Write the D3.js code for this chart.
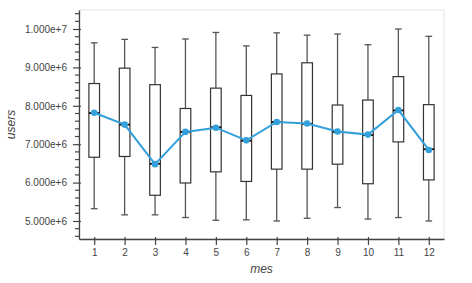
<!DOCTYPE html>
<html>
<head>
<meta charset="utf-8">
<script src="https://cdn.jsdelivr.net/npm/d3@7"></script>
<style>
    body { margin: 0; background: #fff; }
    svg text { font-family: "Liberation Sans", Arial, sans-serif; fill: #444; }
</style>
</head>
<body>
<div id="chart"></div>
<script>
// monthly users, box per month + mean line
let months = [1, 2, 3, 4, 5, 6, 7, 8, 9, 10, 11, 12];
let upper = [9.64e6, 9.73e6, 9.52e6, 9.74e6, 9.91e6, 9.56e6, 9.90e6, 9.84e6, 9.87e6, 9.59e6, 1.0e7, 9.81e6];
let q3 = [8.58e6, 8.98e6, 8.55e6, 7.93e6, 8.46e6, 8.27e6, 8.83e6, 9.12e6, 8.02e6, 8.15e6, 8.76e6, 8.03e6];
let median = [7.81e6, 7.51e6, 6.49e6, 7.32e6, 7.44e6, 7.09e6, 7.58e6, 7.53e6, 7.32e6, 7.24e6, 7.88e6, 6.87e6];
let q1 = [6.66e6, 6.68e6, 5.67e6, 5.99e6, 6.28e6, 6.03e6, 6.35e6, 6.35e6, 6.48e6, 5.97e6, 7.06e6, 6.07e6];
let lower = [5.32e6, 5.16e6, 5.16e6, 5.09e6, 5.02e6, 5.03e6, 5.00e6, 5.07e6, 5.35e6, 5.05e6, 5.09e6, 5.00e6];
let meanUsers = [7.82e6, 7.51e6, 6.48e6, 7.32e6, 7.43e6, 7.10e6, 7.58e6, 7.54e6, 7.33e6, 7.25e6, 7.89e6, 6.85e6];
let yTicks = [5e6, 6e6, 7e6, 8e6, 9e6, 1e7];

let width = 472, height = 283;
let margin = {top: 10, right: 28, bottom: 44, left: 79};

let svg = d3.select("#chart").append("svg")
    .attr("width", width)
    .attr("height", height);

let x = d3.scaleLinear().domain([0.5, 12.5]).range([margin.left, width - margin.right]);
let y = d3.scaleLinear().domain([4.531e6, 1.0495e7]).range([height - margin.bottom, margin.top]);

let boxW = x(0.85) - x(0.5);
let capW = x(0.72) - x(0.5);

let data = months.map((m, i) => ({
    m: m, hi: upper[i], q3: q3[i], med: median[i], q1: q1[i], lo: lower[i], mean: meanUsers[i]
}));

// plot outline
svg.append("rect")
    .attr("x", margin.left).attr("y", margin.top)
    .attr("width", width - margin.right - margin.left)
    .attr("height", height - margin.bottom - margin.top)
    .attr("fill", "none")
    .attr("stroke", "#e6e6e6")
    .attr("stroke-width", 1);

let boxes = svg.append("g").selectAll("g.box")
    .data(data)
    .enter().append("g")
    .attr("class", "box");

// whiskers
boxes.append("line")
    .attr("x1", d => x(d.m)).attr("x2", d => x(d.m))
    .attr("y1", d => y(d.hi)).attr("y2", d => y(d.q3))
    .attr("stroke", "#555").attr("stroke-width", 1.3);
boxes.append("line")
    .attr("x1", d => x(d.m)).attr("x2", d => x(d.m))
    .attr("y1", d => y(d.q1)).attr("y2", d => y(d.lo))
    .attr("stroke", "#555").attr("stroke-width", 1.3);
boxes.append("line")
    .attr("x1", d => x(d.m) - capW / 2).attr("x2", d => x(d.m) + capW / 2)
    .attr("y1", d => y(d.hi)).attr("y2", d => y(d.hi))
    .attr("stroke", "#555").attr("stroke-width", 1.3);
boxes.append("line")
    .attr("x1", d => x(d.m) - capW / 2).attr("x2", d => x(d.m) + capW / 2)
    .attr("y1", d => y(d.lo)).attr("y2", d => y(d.lo))
    .attr("stroke", "#555").attr("stroke-width", 1.3);

// box
boxes.append("rect")
    .attr("x", d => x(d.m) - boxW / 2)
    .attr("y", d => y(d.q3))
    .attr("width", boxW)
    .attr("height", d => y(d.q1) - y(d.q3))
    .attr("fill", "#fff")
    .attr("stroke", "#333")
    .attr("stroke-width", 1.2);

boxes.append("line")
    .attr("x1", d => x(d.m) - boxW / 2).attr("x2", d => x(d.m) + boxW / 2)
    .attr("y1", d => y(d.med)).attr("y2", d => y(d.med))
    .attr("stroke", "#111").attr("stroke-width", 1.8);

// mean line
let line = d3.line().x(d => x(d.m)).y(d => y(d.mean));
svg.append("path")
    .datum(data)
    .attr("d", line)
    .attr("fill", "none")
    .attr("stroke", "#33a0db")
    .attr("stroke-width", 2);

svg.append("g").selectAll("circle")
    .data(data)
    .enter().append("circle")
    .attr("cx", d => x(d.m))
    .attr("cy", d => y(d.mean))
    .attr("r", 3.3)
    .attr("fill", "#33a0db");

// axes
let xAxis = d3.axisBottom(x)
    .tickValues(months)
    .tickSizeInner(6)
    .tickSizeOuter(0)
    .tickPadding(4);

let xg = svg.append("g")
    .attr("transform", "translate(0," + (height - margin.bottom) + ")")
    .call(xAxis);
xg.select(".domain").attr("stroke", "#444").attr("stroke-width", 1.3);
xg.selectAll(".tick line").attr("stroke", "#444").attr("y1", -2).attr("stroke-width", 1.2);
xg.selectAll(".tick text").attr("font-size", 10).attr("fill", "#555");

let yAxis = d3.axisLeft(y)
    .tickValues(yTicks)
    .tickFormat(d3.format(".3e"))
    .tickSizeInner(6)
    .tickSizeOuter(0)
    .tickPadding(6);

let minorTicks = d3.range(46e5, 1.045e7, 2e5).filter(v => Math.round(v / 2e5) % 5 !== 0);
let yMinor = svg.append("g")
    .attr("transform", "translate(" + margin.left + ",0)");
yMinor.selectAll("line")
    .data(minorTicks)
    .enter().append("line")
    .attr("x1", -4).attr("x2", 0)
    .attr("y1", d => y(d)).attr("y2", d => y(d))
    .attr("stroke", "#444").attr("stroke-width", 1.2);

let yg = svg.append("g")
    .attr("transform", "translate(" + margin.left + ",0)")
    .call(yAxis);
yg.select(".domain").attr("stroke", "#444").attr("stroke-width", 1.3);
yg.selectAll(".tick line").attr("stroke", "#444").attr("x1", 2).attr("stroke-width", 1.2);
yg.selectAll(".tick text").attr("font-size", 10).attr("fill", "#555");

// axis titles
svg.append("text")
    .attr("x", (margin.left + width - margin.right) / 2)
    .attr("y", 273)
    .attr("text-anchor", "middle")
    .attr("font-size", 12)
    .attr("font-style", "italic")
    .text("mes");

svg.append("text")
    .attr("transform", "translate(15," + ((margin.top + height - margin.bottom) / 2) + ") rotate(-90)")
    .attr("text-anchor", "middle")
    .attr("font-size", 12)
    .attr("font-style", "italic")
    .text("users");
</script>
</body>
</html>
